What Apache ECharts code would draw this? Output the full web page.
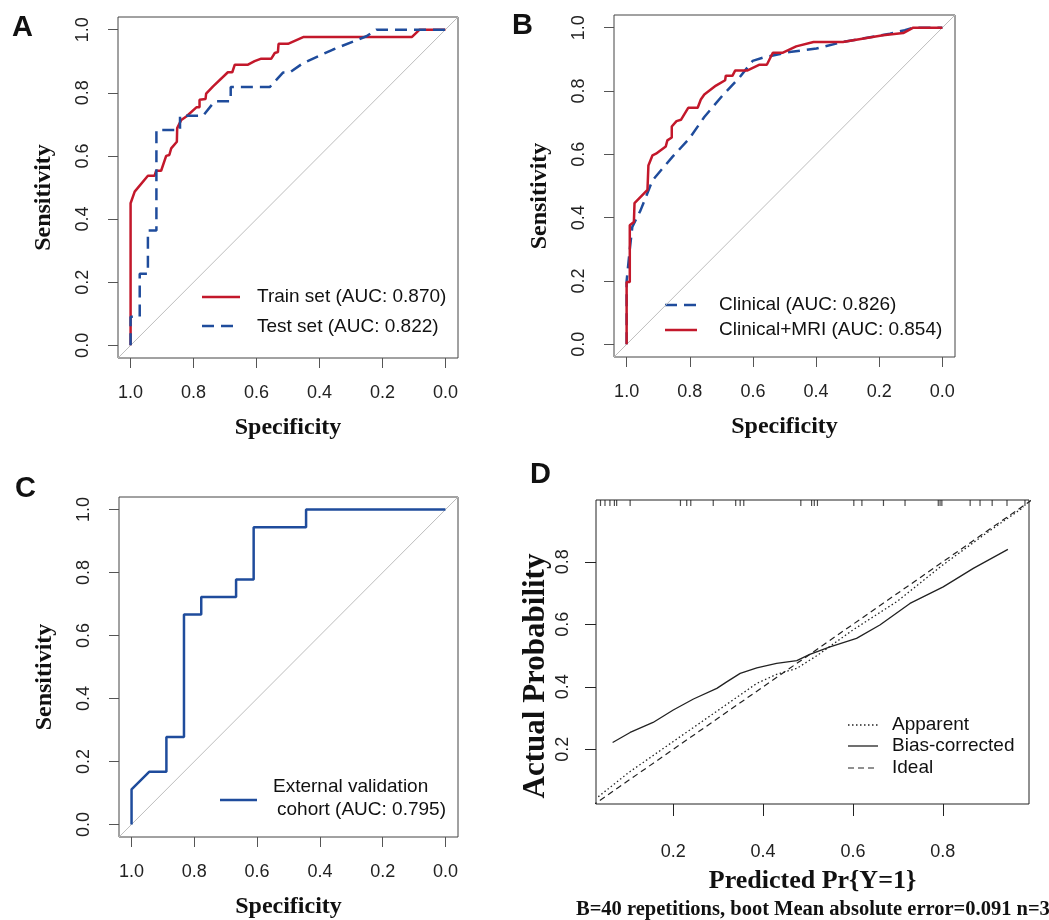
<!DOCTYPE html>
<html>
<head>
<meta charset="utf-8">
<script src="https://cdn.jsdelivr.net/npm/echarts@6/dist/echarts.min.js"></script>
<style>
html,body{margin:0;padding:0;background:#fff;}
#main{width:1049px;height:920px;}
</style>
</head>
<body>
<div id="main"></div>
<script>
// tick values
var rocTicks = [0, 0.2, 0.4, 0.6, 0.8, 1.0];
var calTicks = [0.2, 0.4, 0.6, 0.8];

// A: train set ROC
var trainSpec = [1, 1, 0.987, 0.982, 0.945, 0.924, 0.919, 0.903, 0.887, 0.877, 0.871, 0.853, 0.852, 0.839, 0.823, 0.791, 0.781, 0.781, 0.762, 0.760, 0.738, 0.691, 0.677, 0.669, 0.627, 0.606, 0.585, 0.553, 0.542, 0.532, 0.530, 0.500, 0.450, 0.106, 0.082, 0];
var trainSens = [0, 0.45, 0.487, 0.487, 0.537, 0.537, 0.553, 0.553, 0.600, 0.603, 0.624, 0.645, 0.688, 0.714, 0.725, 0.754, 0.754, 0.778, 0.780, 0.797, 0.820, 0.865, 0.865, 0.889, 0.889, 0.900, 0.908, 0.908, 0.926, 0.929, 0.955, 0.955, 0.977, 0.977, 1, 1];
// A: test set ROC
var testSpec = [1, 1, 0.971, 0.971, 0.945, 0.945, 0.918, 0.918, 0.843, 0.843, 0.770, 0.733, 0.682, 0.682, 0.558, 0.516, 0.495, 0.452, 0.357, 0.251, 0.219, 0];
var testSens = [0, 0.091, 0.091, 0.227, 0.227, 0.364, 0.364, 0.682, 0.682, 0.727, 0.727, 0.773, 0.773, 0.818, 0.818, 0.864, 0.864, 0.894, 0.937, 0.979, 1, 1];

// B: clinical / clinical+MRI
var clinSpec = [1, 1, 0.99, 0.982, 0.956, 0.918, 0.855, 0.802, 0.754, 0.696, 0.643, 0.601, 0.569, 0.484, 0.399, 0.315, 0.166, 0.119, 0.092, 0];
var clinSens = [0, 0.2, 0.3, 0.371, 0.423, 0.518, 0.592, 0.649, 0.718, 0.786, 0.842, 0.895, 0.905, 0.923, 0.934, 0.955, 0.981, 0.992, 1, 1];
var mriSpec = [1, 1, 0.99, 0.99, 0.977, 0.975, 0.934, 0.931, 0.918, 0.907, 0.876, 0.871, 0.857, 0.857, 0.842, 0.828, 0.805, 0.775, 0.765, 0.754, 0.717, 0.688, 0.686, 0.665, 0.656, 0.617, 0.579, 0.556, 0.537, 0.505, 0.463, 0.408, 0.315, 0.188, 0.124, 0.092, 0];
var mriSens = [0, 0.197, 0.197, 0.376, 0.386, 0.446, 0.488, 0.565, 0.597, 0.602, 0.625, 0.644, 0.653, 0.688, 0.705, 0.709, 0.747, 0.747, 0.773, 0.789, 0.817, 0.834, 0.848, 0.848, 0.865, 0.865, 0.883, 0.883, 0.921, 0.921, 0.941, 0.955, 0.955, 0.976, 0.983, 1, 1];

// C: external validation
var extSpec = [1, 1, 0.944, 0.889, 0.889, 0.833, 0.833, 0.778, 0.778, 0.667, 0.667, 0.611, 0.611, 0.444, 0.444, 0];
var extSens = [0, 0.111, 0.167, 0.167, 0.278, 0.278, 0.667, 0.667, 0.722, 0.722, 0.778, 0.778, 0.944, 0.944, 1, 1];

// chance line of the ROC panels (corner to corner)
var chanceX = [1.04, -0.04];
var chanceY = [-0.04, 1.04];

// D: calibration
var apparentX = [0.033, 0.1, 0.2, 0.3, 0.386, 0.43, 0.475, 0.52, 0.6, 0.7, 0.8, 0.9, 0.98];
var apparentY = [0.048, 0.125, 0.225, 0.325, 0.411, 0.44, 0.459, 0.5, 0.582, 0.675, 0.79, 0.895, 0.975];
var biasX = [0.065, 0.104, 0.155, 0.2, 0.245, 0.297, 0.319, 0.349, 0.386, 0.43, 0.475, 0.504, 0.549, 0.608, 0.66, 0.727, 0.801, 0.868, 0.945];
var biasY = [0.222, 0.254, 0.286, 0.326, 0.361, 0.395, 0.416, 0.443, 0.461, 0.475, 0.484, 0.504, 0.528, 0.555, 0.598, 0.667, 0.72, 0.779, 0.84];
var idealX = [0, 1];
var idealY = [0, 1];
var rugX = [0.038, 0.048, 0.059, 0.069, 0.074, 0.104, 0.216, 0.230, 0.239, 0.289, 0.339, 0.349, 0.357, 0.484, 0.508, 0.514, 0.521, 0.602, 0.620, 0.668, 0.716, 0.790, 0.794, 0.798, 0.861, 0.883, 0.910, 0.943, 0.983];

var SANS = "'Liberation Sans', Arial, sans-serif";
var SERIF = "'Liberation Serif', 'Times New Roman', serif";
var RED = '#c3182b';
var BLUE = '#1f4c9c';
var INK = '#222';

function zip(xs, ys) {
    return xs.map(function (x, i) { return [x, ys[i]]; });
}
function fmt(v) { return v.toFixed(1); }

function rocX(g) {
    return {
        gridIndex: g, type: 'value', inverse: true, min: -0.04, max: 1.04,
        axisLine: {show: false, onZero: false},
        splitLine: {show: false},
        axisTick: {show: true, length: 10, customValues: rocTicks, lineStyle: {color: '#555'}},
        axisLabel: {customValues: rocTicks, formatter: fmt, margin: 26, fontSize: 18, color: INK, fontFamily: SANS},
        name: 'Specificity', nameLocation: 'middle', nameGap: 58,
        nameTextStyle: {fontFamily: SERIF, fontWeight: 'bold', fontSize: 24, color: '#111'}
    };
}
function rocY(g) {
    return {
        gridIndex: g, type: 'value', min: -0.04, max: 1.04,
        axisLine: {show: false, onZero: false},
        splitLine: {show: false},
        axisTick: {show: true, length: 10, customValues: rocTicks, lineStyle: {color: '#555'}},
        axisLabel: {customValues: rocTicks, formatter: fmt, margin: 26, rotate: 90, fontSize: 18, color: INK, fontFamily: SANS},
        name: 'Sensitivity', nameLocation: 'middle', nameRotate: 90, nameGap: 62,
        nameTextStyle: {fontFamily: SERIF, fontWeight: 'bold', fontSize: 24, color: '#111', padding: [0, 20, 0, 0]}
    };
}
function curve(name, g, xs, ys, color, width, type) {
    return {
        name: name, type: 'line', xAxisIndex: g, yAxisIndex: g,
        data: zip(xs, ys), symbol: 'none', showSymbol: false, silent: true,
        lineStyle: {color: color, width: width, type: type}
    };
}

// legend pieces
function lg(x1, x2, y, color, width, dash) {
    return {type: 'line', silent: true, shape: {x1: x1, y1: y, x2: x2, y2: y},
        style: {stroke: color, lineWidth: width, lineDash: dash}};
}
function tx(x, y, text, font) {
    return {type: 'text', silent: true, x: x, y: y,
        style: {text: text, font: font, fill: '#111', align: 'left', verticalAlign: 'middle'}};
}
var legFont = '19px ' + SANS;
var letterFont = 'bold 29px ' + SANS;

var chart = echarts.init(document.getElementById('main'), null, {renderer: 'canvas'});
chart.setOption({
    animation: false,
    backgroundColor: '#fff',
    grid: [
        {left: 118, top: 17, width: 340, height: 341, show: true, borderColor: '#444', borderWidth: 1},
        {left: 614, top: 15, width: 341, height: 342, show: true, borderColor: '#444', borderWidth: 1},
        {left: 119, top: 497, width: 339, height: 342, show: true, borderColor: '#444', borderWidth: 1},
        {left: 596, top: 500, width: 433, height: 304, show: true, borderColor: '#222', borderWidth: 1}
    ],
    xAxis: [rocX(0), rocX(1), rocX(2), {
        gridIndex: 3, type: 'value', min: 0.028, max: 0.992,
        axisLine: {show: false, onZero: false},
        splitLine: {show: false},
        axisTick: {show: true, length: 12, customValues: calTicks, lineStyle: {color: '#222'}},
        axisLabel: {customValues: calTicks, formatter: fmt, margin: 39, fontSize: 18, color: INK, fontFamily: SANS},
        name: 'Predicted Pr{Y=1}', nameLocation: 'middle', nameGap: 64,
        nameTextStyle: {fontFamily: SERIF, fontWeight: 'bold', fontSize: 26, color: '#111'}
    }],
    yAxis: [rocY(0), rocY(1), rocY(2), {
        gridIndex: 3, type: 'value', min: 0.025, max: 0.998,
        axisLine: {show: false, onZero: false},
        splitLine: {show: false},
        axisTick: {show: true, length: 11, customValues: calTicks, lineStyle: {color: '#222'}},
        axisLabel: {customValues: calTicks, formatter: fmt, margin: 24, rotate: 90, fontSize: 18, color: INK, fontFamily: SANS},
        name: 'Actual Probability', nameLocation: 'middle', nameRotate: 90, nameGap: 45,
        nameTextStyle: {fontFamily: SERIF, fontWeight: 'bold', fontSize: 31, color: '#111', padding: [0, 48, 0, 0]}
    }],
    series: [
        curve('chanceA', 0, chanceX, chanceY, '#bdbdbd', 1, 'solid'),
        curve('Train set (AUC: 0.870)', 0, trainSpec, trainSens, RED, 2.5, 'solid'),
        curve('Test set (AUC: 0.822)', 0, testSpec, testSens, BLUE, 2.5, [12, 7]),

        curve('chanceB', 1, chanceX, chanceY, '#bdbdbd', 1, 'solid'),
        curve('Clinical (AUC: 0.826)', 1, clinSpec, clinSens, BLUE, 2.5, [12, 7]),
        curve('Clinical+MRI (AUC: 0.854)', 1, mriSpec, mriSens, RED, 2.5, 'solid'),

        curve('chanceC', 2, chanceX, chanceY, '#bdbdbd', 1, 'solid'),
        curve('External validation cohort (AUC: 0.795)', 2, extSpec, extSens, BLUE, 2.5, 'solid'),

        curve('Ideal', 3, idealX, idealY, '#222', 1.2, [6, 4]),
        curve('Apparent', 3, apparentX, apparentY, '#222', 1.3, [1.5, 2.5]),
        curve('Bias-corrected', 3, biasX, biasY, '#222', 1.3, 'solid'),
        {
            name: 'rug', type: 'scatter', xAxisIndex: 3, yAxisIndex: 3, silent: true,
            data: rugX.map(function (x) { return [x, 0.998]; }),
            symbol: 'rect', symbolSize: [1.2, 6], symbolOffset: [0, 3],
            itemStyle: {color: '#222'}
        }
    ],
    graphic: [
        tx(12, 28, 'A', letterFont),
        tx(512, 26, 'B', letterFont),
        tx(15, 489, 'C', letterFont),
        tx(530, 475, 'D', letterFont),

        lg(202, 240, 297, RED, 2.5, null),
        tx(257, 297, 'Train set (AUC: 0.870)', legFont),
        lg(202, 240, 326, BLUE, 2.5, [12, 7]),
        tx(257, 327, 'Test set (AUC: 0.822)', legFont),

        lg(665, 697, 305, BLUE, 2.5, [12, 7]),
        tx(719, 305, 'Clinical (AUC: 0.826)', legFont),
        lg(665, 697, 330, RED, 2.5, null),
        tx(719, 330, 'Clinical+MRI (AUC: 0.854)', legFont),

        lg(220, 257, 800, BLUE, 2.5, null),
        tx(273, 787, 'External validation', legFont),
        tx(277, 810, 'cohort (AUC: 0.795)', legFont),

        lg(848, 878, 725, '#222', 1.3, [1.5, 2.5]),
        tx(892, 725, 'Apparent', legFont),
        lg(848, 878, 746, '#222', 1.3, null),
        tx(892, 746, 'Bias-corrected', legFont),
        lg(848, 878, 768, '#222', 1.2, [6, 4]),
        tx(892, 768, 'Ideal', legFont),

        tx(576, 910, 'B=40 repetitions, boot Mean absolute error=0.091 n=36', 'bold 20.5px ' + SERIF)
    ]
});
</script>
</body>
</html>
